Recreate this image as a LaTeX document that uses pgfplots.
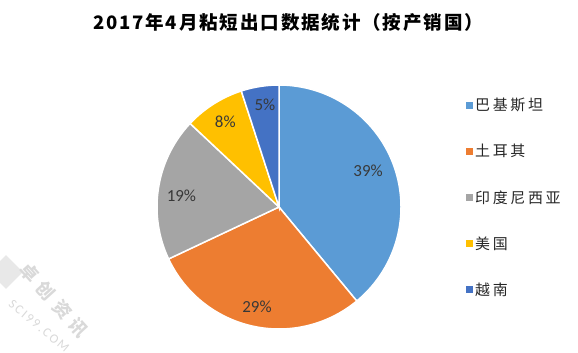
\documentclass[border=0pt]{standalone}
\usepackage{pgfplots}
\pgfplotsset{compat=1.18}
\usepackage{fontspec}
\setmainfont{Carlito}
\newfontfamily\cjk{Noto Sans CJK SC}
\newfontfamily\cjkls[LetterSpace=18]{Noto Sans CJK SC}
\newfontfamily\cjkt[LetterSpace=10]{Noto Sans CJK SC}
\newfontfamily\cjkw[LetterSpace=38]{Noto Sans CJK SC}
\definecolor{c1}{HTML}{5B9BD5}
\definecolor{c2}{HTML}{ED7D31}
\definecolor{c3}{HTML}{A5A5A5}
\definecolor{c4}{HTML}{FFC000}
\definecolor{c5}{HTML}{4472C4}
\newcommand{\labelfont}{\fontsize{17}{20}\selectfont\color{black!78}}
% #1 cumulative start (%), #2 value (%), #3 colour, #4 legend, #5,#6 label position
\newcommand{\pieslice}[6]{%
  \pgfmathsetmacro{\sa}{90-3.6*#1}%
  \pgfmathsetmacro{\sb}{90-3.6*(#1+#2)}%
  \edef\tmp{\noexpand\addplot[fill=#3, draw=white, line width=1.5bp, domain=\sa:\sb, samples=90] ({cos(x)},{sin(x)}) -- (axis cs:0,0) -- cycle;}\tmp
  \addlegendentry{#4}
  \node[font=\labelfont] at (axis cs:#5,#6) {#2\%};
}
\begin{document}
\begin{tikzpicture}[x=1bp,y=1bp]
\path[use as bounding box] (0,0) rectangle (578,352);
\node[font=\cjkt\bfseries\fontsize{18.6}{22}\selectfont] at (288,329.5) {2017年4月粘短出口数据统计（按产销国）};
% faint watermark
\fill[black!9, rotate around={45:(6,80)}] (-6,68) rectangle (18,92);
\node[rotate=-48, text=black!15, font=\cjkw\bfseries\fontsize{18}{20}\selectfont] at (54,52) {卓创资讯};
\node[rotate=-40, text=black!15, font=\fontsize{13}{13}\selectfont\addfontfeature{LetterSpace=15}] at (39,26) {SCI99.COM};
\begin{axis}[at={(157bp,23bp)}, anchor=south west, scale only axis, width=244bp, height=244bp,
  xmin=-1, xmax=1, ymin=-1, ymax=1, hide axis, clip=false,
  legend style={at={(1.254,0.539)}, anchor=west, draw=none, fill=none,
    font=\cjkls\fontsize{15}{17}\selectfont\color{black!85}, row sep=28bp},
  legend cell align=left,
  legend image code/.code={\fill[#1,draw=none] (0bp,-3.5bp) rectangle (7bp,3.5bp);},
]
\pieslice{0}{39}{c1}{巴基斯坦}{0.73}{0.30}
\pieslice{39}{29}{c2}{土耳其}{-0.18}{-0.82}
\pieslice{68}{19}{c3}{印度尼西亚}{-0.80}{0.09}
\pieslice{87}{8}{c4}{美国}{-0.44}{0.70}
\pieslice{95}{5}{c5}{越南}{-0.115}{0.84}
\end{axis}
\end{tikzpicture}
\end{document}
